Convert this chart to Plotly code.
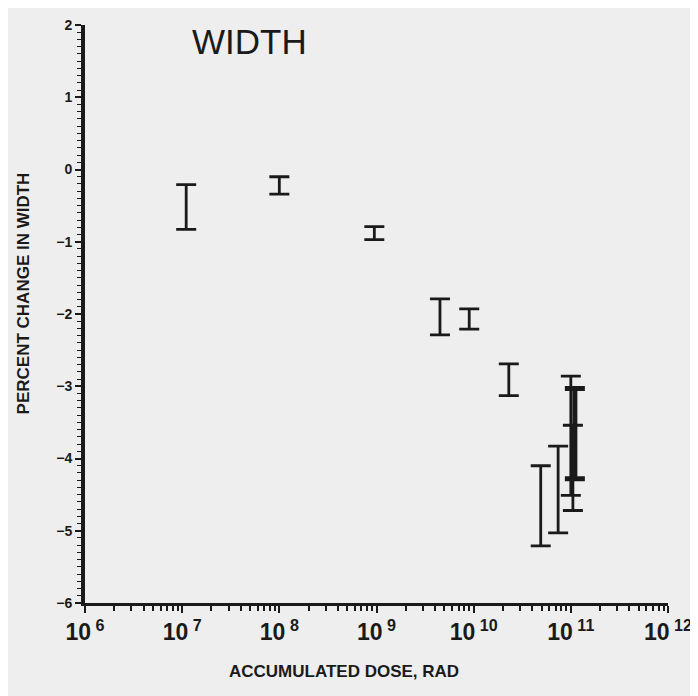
import plotly.graph_objects as go

# Data (dose in rad, percent change bounds)
dose = [1.1e7, 1.0e8, 0.95e9, 4.5e9, 9.0e9, 2.3e10, 4.9e10, 7.4e10, 1.0e11, 1.1e11, 1.05e11]
upper = [-0.21, -0.10, -0.79, -1.79, -1.93, -2.69, -4.10, -3.83, -2.86, -3.03, -3.54]
lower = [-0.83, -0.34, -0.97, -2.29, -2.21, -3.13, -5.21, -5.03, -4.51, -4.28, -4.72]
thick = [False, False, False, False, False, False, False, False, False, True, False]

x_tickvals = [1e6, 1e7, 1e8, 1e9, 1e10, 1e11, 1e12]
x_ticktext = ["<b>10<sup> 6</sup></b>", "<b>10<sup> 7</sup></b>", "<b>10<sup> 8</sup></b>",
              "<b>10<sup> 9</sup></b>", "<b>10<sup> 10</sup></b>", "<b>10<sup> 11</sup></b>",
              "<b>10<sup> 12</sup></b>"]
y_tickvals = [2, 1, 0, -1, -2, -3, -4, -5, -6]
y_ticktext = ["<b>2</b>", "<b>1</b>", "<b>0</b>", "<b>−1</b>", "<b>−2</b>", "<b>−3</b>",
              "<b>−4</b>", "<b>−5</b>", "<b>−6</b>"]

fig = go.Figure()
for d, u, l, t in zip(dose, upper, lower, thick):
    mid = (u + l) / 2
    half = (u - l) / 2
    fig.add_trace(go.Scatter(
        x=[d], y=[mid], mode="markers",
        marker=dict(size=1, color="rgba(0,0,0,0)"),
        error_y=dict(type="data", array=[half], visible=True,
                     color="#1a1a1a", thickness=5 if t else 2.8, width=10),
        showlegend=False, hoverinfo="skip"))

axis_font = dict(family="Liberation Sans, Arial, sans-serif", color="#1a1a1a")

fig.update_layout(
    width=698, height=696,
    margin=dict(l=77, r=38, t=17, b=101),
    paper_bgcolor="#eeeeee", plot_bgcolor="#eeeeee",
    xaxis=dict(type="log", range=[6, 12], tickvals=x_tickvals, ticktext=x_ticktext,
               automargin=False,
               showgrid=False, zeroline=False, showline=True, linecolor="#1a1a1a",
               linewidth=2.5, ticks="outside", ticklen=7, tickwidth=2,
               tickcolor="#1a1a1a", tickfont=dict(size=23, **axis_font),
               minor=dict(ticks="outside", ticklen=5, tickwidth=1.5, tickcolor="#1a1a1a",
                          dtick="D1", showgrid=False)),
    yaxis=dict(range=[-6, 2], tickvals=y_tickvals, ticktext=y_ticktext,
               automargin=False,
               showgrid=False, zeroline=False, showline=True, linecolor="#1a1a1a",
               linewidth=4, ticks="outside", ticklen=6, tickwidth=2,
               tickcolor="#1a1a1a", tickfont=dict(size=14, **axis_font),
               minor=dict(ticks="outside", ticklen=4, tickwidth=1.2, tickcolor="#1a1a1a",
                          dtick=0.1, showgrid=False)),
    annotations=[
        dict(text="WIDTH", x=0.18, y=1.008, xref="paper", yref="paper",
             xanchor="left", yanchor="top", showarrow=False,
             font=dict(size=35, **axis_font)),
        dict(text="<b>ACCUMULATED DOSE, RAD</b>", x=0.444, y=-0.119, xref="paper", yref="paper",
             xanchor="center", yanchor="middle", showarrow=False,
             font=dict(size=17, **axis_font)),
        dict(text="<b>PERCENT CHANGE IN WIDTH</b>", x=-0.106, y=0.536, xref="paper", yref="paper",
             xanchor="center", yanchor="middle", showarrow=False, textangle=-90,
             font=dict(size=17, **axis_font)),
    ],
)

fig.write_html("out.html")
